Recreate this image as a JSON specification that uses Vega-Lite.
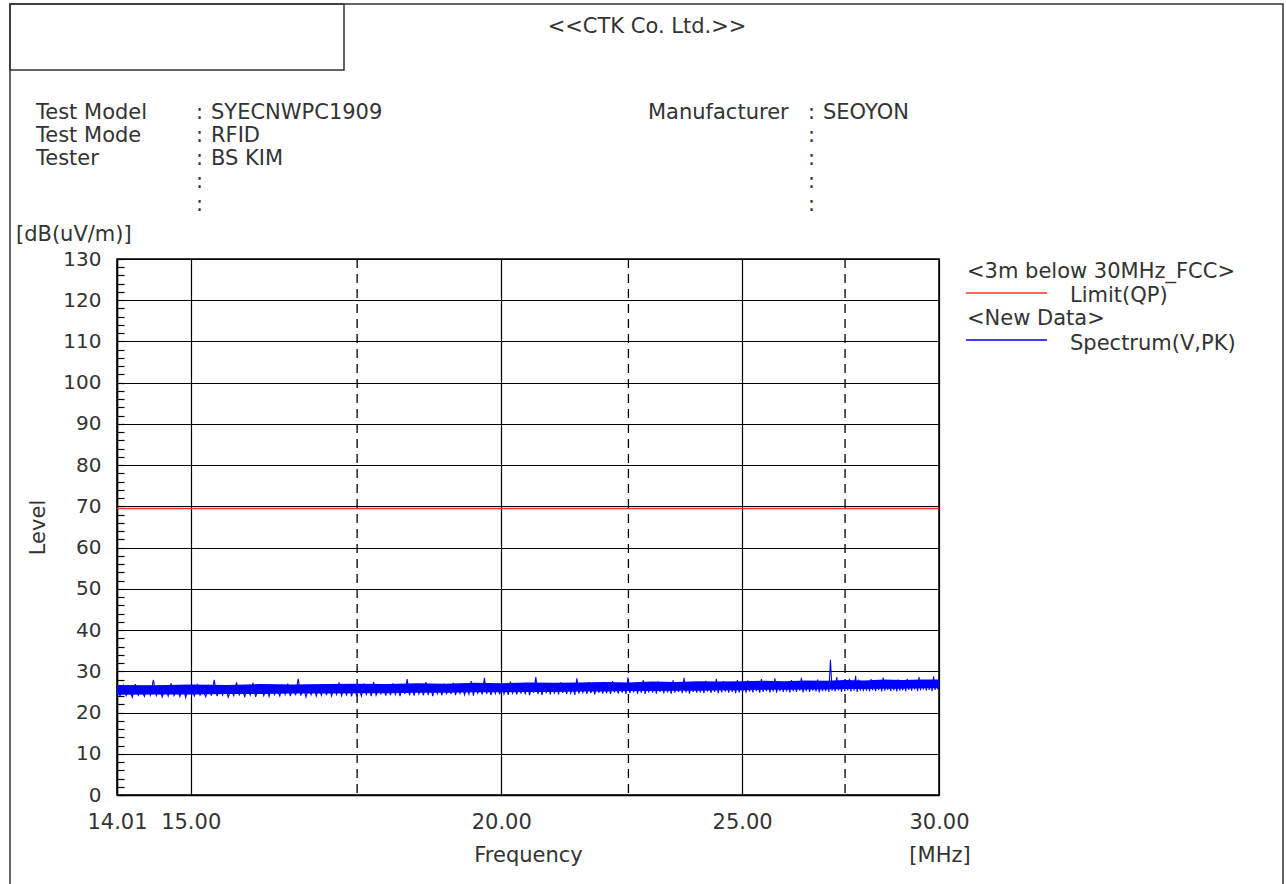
{
  "$schema": "https://vega.github.io/schema/vega-lite/v6.json",
  "width": 822,
  "height": 536,
  "autosize": {"type": "none"},
  "padding": {"left": 117, "top": 259, "right": 347, "bottom": 89},
  "background": "white",
  "config": {
    "view": {"stroke": "#000", "strokeWidth": 1.5},
    "axis": {"labelFont": "DejaVu Sans", "titleFont": "DejaVu Sans", "labelColor": "#333", "titleColor": "#333", "labelFontSize": 21, "titleFontSize": 21, "titleFontWeight": "normal"},
    "text": {"font": "DejaVu Sans", "fontSize": 21, "color": "#333"}
  },
  "layer": [
    {
      "data": {"values": [{"f": 17.5}, {"f": 22.5}, {"f": 27.5}]},
      "mark": {"type": "rule", "color": "#000", "strokeWidth": 1.3, "strokeDash": [9, 6]},
      "encoding": {"x": {"field": "f", "type": "quantitative"}}
    },
    {
      "data": {"values": [{"f": 14.01, "v": 69.5}, {"f": 30, "v": 69.5}]},
      "mark": {"type": "line", "color": "#ff3030", "strokeWidth": 1.6},
      "encoding": {
        "x": {"field": "f", "type": "quantitative"},
        "y": {"field": "v", "type": "quantitative"}
      }
    },
    {
      "data": {"values": [
        {"f":14.01,"lo":24.3,"hi":26.7},{"f":14.5,"lo":24.4,"hi":26.6},{"f":15,"lo":24.4,"hi":26.8},{"f":15.5,"lo":24.5,"hi":26.7},{"f":16,"lo":24.5,"hi":26.9},{"f":16.5,"lo":24.6,"hi":26.8},{"f":17,"lo":24.6,"hi":26.9},{"f":17.5,"lo":24.7,"hi":27.0},{"f":18,"lo":24.7,"hi":26.9},{"f":18.5,"lo":24.8,"hi":27.1},{"f":19,"lo":24.8,"hi":27.0},{"f":19.5,"lo":24.9,"hi":27.2},{"f":20,"lo":24.9,"hi":27.1},{"f":20.5,"lo":25.0,"hi":27.3},{"f":21,"lo":25.0,"hi":27.2},{"f":21.5,"lo":25.1,"hi":27.3},{"f":22,"lo":25.1,"hi":27.4},{"f":22.5,"lo":25.2,"hi":27.3},{"f":23,"lo":25.2,"hi":27.5},{"f":23.5,"lo":25.3,"hi":27.4},{"f":24,"lo":25.3,"hi":27.6},{"f":24.5,"lo":25.4,"hi":27.5},{"f":25,"lo":25.4,"hi":27.6},{"f":25.5,"lo":25.5,"hi":27.7},{"f":26,"lo":25.5,"hi":27.6},{"f":26.5,"lo":25.6,"hi":27.8},{"f":27,"lo":25.6,"hi":27.7},{"f":27.5,"lo":25.7,"hi":27.9},{"f":28,"lo":25.7,"hi":27.8},{"f":28.5,"lo":25.8,"hi":28.0},{"f":29,"lo":25.8,"hi":27.9},{"f":29.5,"lo":25.9,"hi":28.0},{"f":30,"lo":25.9,"hi":28.0}
      ]},
      "mark": {"type": "area", "color": "#0000ff", "opacity": 1},
      "encoding": {
        "x": {"field": "f", "type": "quantitative"},
        "y": {"field": "lo", "type": "quantitative"},
        "y2": {"field": "hi"}
      }
    },
    {
      "data": {"values": [
        {"f":14.01,"v":26.1},{"f":14.05,"v":24.0},{"f":14.09,"v":26.6},{"f":14.13,"v":24.1},{"f":14.17,"v":25.7},{"f":14.21,"v":23.7},{"f":14.25,"v":26.9},{"f":14.29,"v":24.2},{"f":14.33,"v":25.5},{"f":14.37,"v":23.9},{"f":14.41,"v":26.3},{"f":14.45,"v":24.2},{"f":14.49,"v":27.9},{"f":14.53,"v":24.1},{"f":14.57,"v":25.9},{"f":14.61,"v":23.8},{"f":14.65,"v":26.2},{"f":14.69,"v":24.0},{"f":14.73,"v":27.1},{"f":14.77,"v":24.1},{"f":14.81,"v":25.6},{"f":14.85,"v":23.9},{"f":14.89,"v":26.5},{"f":14.93,"v":23.6},{"f":14.97,"v":26.0},
        {"f":15.01,"v":25.8},{"f":15.05,"v":24.0},{"f":15.09,"v":26.7},{"f":15.13,"v":24.2},{"f":15.17,"v":25.5},{"f":15.21,"v":23.8},{"f":15.25,"v":26.4},{"f":15.29,"v":24.1},{"f":15.33,"v":27.9},{"f":15.37,"v":24.0},{"f":15.41,"v":26.0},{"f":15.45,"v":24.2},{"f":15.49,"v":26.6},{"f":15.53,"v":23.7},{"f":15.57,"v":25.7},{"f":15.61,"v":24.1},{"f":15.65,"v":27.3},{"f":15.69,"v":24.3},{"f":15.73,"v":25.6},{"f":15.77,"v":23.9},{"f":15.81,"v":26.3},{"f":15.85,"v":24.2},{"f":15.89,"v":27.2},{"f":15.93,"v":23.8},{"f":15.97,"v":25.9},
        {"f":16.01,"v":26.4},{"f":16.05,"v":24.1},{"f":16.09,"v":25.9},{"f":16.13,"v":23.9},{"f":16.17,"v":26.8},{"f":16.21,"v":24.3},{"f":16.25,"v":25.6},{"f":16.29,"v":24.0},{"f":16.33,"v":26.5},{"f":16.37,"v":24.4},{"f":16.41,"v":27.0},{"f":16.45,"v":24.0},{"f":16.49,"v":26.1},{"f":16.53,"v":24.2},{"f":16.57,"v":28.2},{"f":16.61,"v":24.1},{"f":16.65,"v":26.3},{"f":16.69,"v":23.8},{"f":16.73,"v":25.8},{"f":16.77,"v":24.3},{"f":16.81,"v":26.7},{"f":16.85,"v":24.0},{"f":16.89,"v":26.0},{"f":16.93,"v":24.2},{"f":16.97,"v":26.9},
        {"f":17.01,"v":24.2},{"f":17.05,"v":26.6},{"f":17.09,"v":24.0},{"f":17.13,"v":26.1},{"f":17.17,"v":24.4},{"f":17.21,"v":27.3},{"f":17.25,"v":24.1},{"f":17.29,"v":25.9},{"f":17.33,"v":24.3},{"f":17.37,"v":26.8},{"f":17.41,"v":23.9},{"f":17.45,"v":26.2},{"f":17.49,"v":24.2},{"f":17.53,"v":25.8},{"f":17.57,"v":24.0},{"f":17.61,"v":27.0},{"f":17.65,"v":24.4},{"f":17.69,"v":26.4},{"f":17.73,"v":24.0},{"f":17.77,"v":27.4},{"f":17.81,"v":24.2},{"f":17.85,"v":25.7},{"f":17.89,"v":24.5},{"f":17.93,"v":26.3},{"f":17.97,"v":24.1},
        {"f":18.01,"v":26.6},{"f":18.05,"v":24.2},{"f":18.09,"v":27.1},{"f":18.13,"v":24.4},{"f":18.17,"v":26.0},{"f":18.21,"v":24.0},{"f":18.25,"v":26.7},{"f":18.29,"v":24.5},{"f":18.33,"v":28.1},{"f":18.37,"v":24.2},{"f":18.41,"v":26.2},{"f":18.45,"v":24.1},{"f":18.49,"v":26.9},{"f":18.53,"v":24.5},{"f":18.57,"v":25.9},{"f":18.61,"v":24.2},{"f":18.65,"v":27.4},{"f":18.69,"v":24.3},{"f":18.73,"v":26.4},{"f":18.77,"v":24.0},{"f":18.81,"v":26.8},{"f":18.85,"v":24.6},{"f":18.89,"v":26.1},{"f":18.93,"v":24.2},{"f":18.97,"v":27.0},
        {"f":19.01,"v":24.4},{"f":19.05,"v":26.5},{"f":19.09,"v":24.5},{"f":19.13,"v":27.2},{"f":19.17,"v":24.2},{"f":19.21,"v":26.3},{"f":19.25,"v":24.6},{"f":19.29,"v":26.9},{"f":19.33,"v":24.3},{"f":19.37,"v":26.0},{"f":19.41,"v":24.5},{"f":19.45,"v":27.6},{"f":19.49,"v":24.1},{"f":19.53,"v":26.7},{"f":19.57,"v":24.7},{"f":19.61,"v":26.2},{"f":19.65,"v":24.4},{"f":19.69,"v":28.4},{"f":19.73,"v":24.5},{"f":19.77,"v":26.6},{"f":19.81,"v":24.2},{"f":19.85,"v":26.1},{"f":19.89,"v":24.6},{"f":19.93,"v":27.0},{"f":19.97,"v":24.4},
        {"f":20.01,"v":26.8},{"f":20.05,"v":24.5},{"f":20.09,"v":26.3},{"f":20.13,"v":24.3},{"f":20.17,"v":27.5},{"f":20.21,"v":24.7},{"f":20.25,"v":26.1},{"f":20.29,"v":24.4},{"f":20.33,"v":26.9},{"f":20.37,"v":24.6},{"f":20.41,"v":26.5},{"f":20.45,"v":24.4},{"f":20.49,"v":27.2},{"f":20.53,"v":24.2},{"f":20.57,"v":26.4},{"f":20.61,"v":24.8},{"f":20.65,"v":28.6},{"f":20.69,"v":24.5},{"f":20.73,"v":26.2},{"f":20.77,"v":24.3},{"f":20.81,"v":27.0},{"f":20.85,"v":24.7},{"f":20.89,"v":26.6},{"f":20.93,"v":24.4},{"f":20.97,"v":26.9},
        {"f":21.01,"v":24.6},{"f":21.05,"v":26.7},{"f":21.09,"v":24.4},{"f":21.13,"v":27.3},{"f":21.17,"v":24.8},{"f":21.21,"v":26.4},{"f":21.25,"v":24.5},{"f":21.29,"v":27.0},{"f":21.33,"v":24.7},{"f":21.37,"v":26.2},{"f":21.41,"v":24.3},{"f":21.45,"v":28.3},{"f":21.49,"v":24.6},{"f":21.53,"v":26.8},{"f":21.57,"v":24.9},{"f":21.61,"v":26.5},{"f":21.65,"v":24.5},{"f":21.69,"v":27.4},{"f":21.73,"v":24.7},{"f":21.77,"v":26.3},{"f":21.81,"v":24.4},{"f":21.85,"v":27.1},{"f":21.89,"v":24.8},{"f":21.93,"v":26.6},{"f":21.97,"v":24.6},
        {"f":22.01,"v":27.0},{"f":22.05,"v":24.7},{"f":22.09,"v":26.6},{"f":22.13,"v":24.5},{"f":22.17,"v":27.6},{"f":22.21,"v":24.9},{"f":22.25,"v":26.4},{"f":22.29,"v":24.6},{"f":22.33,"v":27.2},{"f":22.37,"v":24.8},{"f":22.41,"v":26.8},{"f":22.45,"v":24.5},{"f":22.49,"v":28.5},{"f":22.53,"v":24.7},{"f":22.57,"v":26.5},{"f":22.61,"v":24.9},{"f":22.65,"v":27.3},{"f":22.69,"v":24.6},{"f":22.73,"v":26.7},{"f":22.77,"v":24.8},{"f":22.81,"v":27.9},{"f":22.85,"v":24.5},{"f":22.89,"v":26.6},{"f":22.93,"v":24.9},{"f":22.97,"v":27.1},
        {"f":23.01,"v":24.8},{"f":23.05,"v":26.9},{"f":23.09,"v":24.6},{"f":23.13,"v":27.5},{"f":23.17,"v":25.0},{"f":23.21,"v":26.6},{"f":23.25,"v":24.7},{"f":23.29,"v":27.2},{"f":23.33,"v":24.9},{"f":23.37,"v":26.5},{"f":23.41,"v":24.6},{"f":23.45,"v":27.8},{"f":23.49,"v":24.8},{"f":23.53,"v":26.8},{"f":23.57,"v":25.0},{"f":23.61,"v":27.1},{"f":23.65,"v":24.7},{"f":23.69,"v":28.4},{"f":23.73,"v":24.9},{"f":23.77,"v":26.7},{"f":23.81,"v":24.6},{"f":23.85,"v":27.3},{"f":23.89,"v":25.0},{"f":23.93,"v":26.9},{"f":23.97,"v":24.8},
        {"f":24.01,"v":27.1},{"f":24.05,"v":24.9},{"f":24.09,"v":26.8},{"f":24.13,"v":24.7},{"f":24.17,"v":27.7},{"f":24.21,"v":25.1},{"f":24.25,"v":26.6},{"f":24.29,"v":24.8},{"f":24.33,"v":27.4},{"f":24.37,"v":25.0},{"f":24.41,"v":28.2},{"f":24.45,"v":24.7},{"f":24.49,"v":26.9},{"f":24.53,"v":24.9},{"f":24.57,"v":27.6},{"f":24.61,"v":25.1},{"f":24.65,"v":26.7},{"f":24.69,"v":24.8},{"f":24.73,"v":27.3},{"f":24.77,"v":25.0},{"f":24.81,"v":26.8},{"f":24.85,"v":24.7},{"f":24.89,"v":27.9},{"f":24.93,"v":24.9},{"f":24.97,"v":27.0},
        {"f":25.01,"v":25.0},{"f":25.05,"v":27.2},{"f":25.09,"v":24.8},{"f":25.13,"v":27.8},{"f":25.17,"v":25.1},{"f":25.21,"v":26.9},{"f":25.25,"v":24.9},{"f":25.29,"v":27.5},{"f":25.33,"v":25.2},{"f":25.37,"v":27.0},{"f":25.41,"v":24.8},{"f":25.45,"v":28.1},{"f":25.49,"v":25.0},{"f":25.53,"v":26.8},{"f":25.57,"v":25.2},{"f":25.61,"v":27.4},{"f":25.65,"v":24.9},{"f":25.69,"v":27.1},{"f":25.73,"v":25.1},{"f":25.77,"v":28.3},{"f":25.81,"v":24.8},{"f":25.85,"v":26.9},{"f":25.89,"v":25.2},{"f":25.93,"v":27.3},{"f":25.97,"v":25.0},
        {"f":26.01,"v":27.3},{"f":26.05,"v":25.1},{"f":26.09,"v":27.0},{"f":26.13,"v":24.9},{"f":26.17,"v":27.9},{"f":26.21,"v":25.2},{"f":26.25,"v":26.8},{"f":26.29,"v":25.0},{"f":26.33,"v":27.5},{"f":26.37,"v":25.3},{"f":26.41,"v":28.4},{"f":26.45,"v":24.9},{"f":26.49,"v":27.1},{"f":26.53,"v":25.2},{"f":26.57,"v":27.6},{"f":26.61,"v":25.0},{"f":26.65,"v":26.9},{"f":26.69,"v":25.3},{"f":26.73,"v":27.4},{"f":26.77,"v":25.1},{"f":26.81,"v":28.0},{"f":26.85,"v":24.9},{"f":26.89,"v":27.2},{"f":26.93,"v":25.2},{"f":26.97,"v":27.7},
        {"f":27.01,"v":25.2},{"f":27.05,"v":27.5},{"f":27.09,"v":25.0},{"f":27.13,"v":32.8},{"f":27.17,"v":25.3},{"f":27.21,"v":27.1},{"f":27.25,"v":25.1},{"f":27.29,"v":28.6},{"f":27.33,"v":25.4},{"f":27.37,"v":27.3},{"f":27.41,"v":25.0},{"f":27.45,"v":27.8},{"f":27.49,"v":25.2},{"f":27.53,"v":27.0},{"f":27.57,"v":25.4},{"f":27.61,"v":28.2},{"f":27.65,"v":25.1},{"f":27.69,"v":27.4},{"f":27.73,"v":25.3},{"f":27.77,"v":28.9},{"f":27.81,"v":25.0},{"f":27.85,"v":28.0},{"f":27.89,"v":25.3},{"f":27.93,"v":27.5},{"f":27.97,"v":25.2},
        {"f":28.01,"v":27.6},{"f":28.05,"v":25.3},{"f":28.09,"v":27.2},{"f":28.13,"v":25.1},{"f":28.17,"v":28.1},{"f":28.21,"v":25.4},{"f":28.25,"v":27.0},{"f":28.29,"v":25.2},{"f":28.33,"v":27.7},{"f":28.37,"v":25.5},{"f":28.41,"v":27.3},{"f":28.45,"v":25.1},{"f":28.49,"v":28.5},{"f":28.53,"v":25.3},{"f":28.57,"v":27.4},{"f":28.61,"v":25.5},{"f":28.65,"v":27.1},{"f":28.69,"v":25.2},{"f":28.73,"v":27.8},{"f":28.77,"v":25.4},{"f":28.81,"v":27.3},{"f":28.85,"v":25.1},{"f":28.89,"v":28.0},{"f":28.93,"v":25.3},{"f":28.97,"v":27.5},
        {"f":29.01,"v":25.4},{"f":29.05,"v":27.7},{"f":29.09,"v":25.2},{"f":29.13,"v":28.2},{"f":29.17,"v":25.5},{"f":29.21,"v":27.3},{"f":29.25,"v":25.3},{"f":29.29,"v":27.9},{"f":29.33,"v":25.6},{"f":29.37,"v":27.4},{"f":29.41,"v":25.2},{"f":29.45,"v":28.6},{"f":29.49,"v":25.4},{"f":29.53,"v":27.2},{"f":29.57,"v":25.6},{"f":29.61,"v":27.6},{"f":29.65,"v":25.3},{"f":29.69,"v":27.9},{"f":29.73,"v":25.5},{"f":29.77,"v":27.3},{"f":29.81,"v":25.2},{"f":29.85,"v":28.8},{"f":29.89,"v":25.5},{"f":29.93,"v":27.5},{"f":29.97,"v":25.6},
        {"f":30.0,"v":26.9}
      ]},
      "mark": {"type": "line", "color": "#0000ff", "strokeWidth": 1.1},
      "encoding": {
        "x": {
          "field": "f", "type": "quantitative",
          "scale": {"type": "log", "domain": [14.01, 30], "nice": false, "zero": false},
          "axis": {
            "values": [14.01, 15, 20, 25, 30], "format": ".2f", "labelPadding": 16, "labelFlush": false, "labelOverlap": false,
            "ticks": false, "grid": true, "gridColor": "#000", "gridWidth": 1.2, "gridOpacity": 1,
            "domainColor": "#000", "domainWidth": 1.5,
            "title": "Frequency", "titleX": 411, "titleY": 60, "titleAlign": "center", "titleBaseline": "middle"
          }
        },
        "y": {
          "field": "v", "type": "quantitative",
          "scale": {"domain": [0, 130], "nice": false, "zero": true},
          "axis": {
            "values": [0,2,4,6,8,10,12,14,16,18,20,22,24,26,28,30,32,34,36,38,40,42,44,46,48,50,52,54,56,58,60,62,64,66,68,70,72,74,76,78,80,82,84,86,88,90,92,94,96,98,100,102,104,106,108,110,112,114,116,118,120,122,124,126,128,130],
            "tickCount": 200, "format": "d",
            "labelExpr": "datum.value % 10 === 0 ? datum.label : ''", "labelOverlap": false, "labelPadding": 23, "labelFontSize": 20,
            "tickSize": -7, "tickColor": "#000", "tickWidth": 1.2,
            "grid": true, "gridColor": "#000", "gridWidth": 1.2,
            "gridOpacity": {"condition": {"test": "datum.value % 10 === 0", "value": 1}, "value": 0},
            "domainColor": "#000", "domainWidth": 1.5,
            "title": "Level", "titleX": -79, "titleY": 268, "titleAlign": "center", "titleBaseline": "middle", "titleAngle": -90
          }
        }
      }
    },
    {
      "data": {"values": [{}]},
      "mark": {"type": "rect", "fillOpacity": 0, "stroke": "#333", "strokeWidth": 1.5},
      "encoding": {"x": {"value": -107}, "x2": {"value": 1166}, "y": {"value": -255}, "y2": {"value": 640}}
    },
    {
      "data": {"values": [{}]},
      "mark": {"type": "rect", "fillOpacity": 0, "stroke": "#333", "strokeWidth": 1.5},
      "encoding": {"x": {"value": -107}, "x2": {"value": 227}, "y": {"value": -255}, "y2": {"value": -189}}
    },
    {
      "data": {"values": [{}]},
      "mark": {"type": "text", "text": "<<CTK Co. Ltd.>>", "align": "center", "baseline": "alphabetic"},
      "encoding": {"x": {"value": 530}, "y": {"value": -226}}
    },
    {
      "data": {"values": [{}]},
      "mark": {"type": "text", "text": ["Test Model", "Test Mode", "Tester"], "align": "left", "baseline": "alphabetic", "lineHeight": 23},
      "encoding": {"x": {"value": -81}, "y": {"value": -140}}
    },
    {
      "data": {"values": [{}]},
      "mark": {"type": "text", "text": [":", ":", ":", ":", ":"], "align": "left", "baseline": "alphabetic", "lineHeight": 23},
      "encoding": {"x": {"value": 79}, "y": {"value": -140}}
    },
    {
      "data": {"values": [{}]},
      "mark": {"type": "text", "text": ["SYECNWPC1909", "RFID", "BS KIM"], "align": "left", "baseline": "alphabetic", "lineHeight": 23},
      "encoding": {"x": {"value": 94}, "y": {"value": -140}}
    },
    {
      "data": {"values": [{}]},
      "mark": {"type": "text", "text": "Manufacturer", "align": "left", "baseline": "alphabetic"},
      "encoding": {"x": {"value": 531}, "y": {"value": -140}}
    },
    {
      "data": {"values": [{}]},
      "mark": {"type": "text", "text": [":", ":", ":", ":", ":"], "align": "left", "baseline": "alphabetic", "lineHeight": 23},
      "encoding": {"x": {"value": 691}, "y": {"value": -140}}
    },
    {
      "data": {"values": [{}]},
      "mark": {"type": "text", "text": "SEOYON", "align": "left", "baseline": "alphabetic"},
      "encoding": {"x": {"value": 706}, "y": {"value": -140}}
    },
    {
      "data": {"values": [{}]},
      "mark": {"type": "text", "text": "[dB(uV/m)]", "align": "left", "baseline": "alphabetic"},
      "encoding": {"x": {"value": -101}, "y": {"value": -18}}
    },
    {
      "data": {"values": [{}]},
      "mark": {"type": "text", "text": "[MHz]", "align": "center", "baseline": "alphabetic"},
      "encoding": {"x": {"value": 823}, "y": {"value": 603}}
    },
    {
      "data": {"values": [{}]},
      "mark": {"type": "text", "text": "<3m below 30MHz_FCC>", "align": "left", "baseline": "alphabetic"},
      "encoding": {"x": {"value": 850}, "y": {"value": 19}}
    },
    {
      "data": {"values": [{}]},
      "mark": {"type": "text", "text": "Limit(QP)", "align": "left", "baseline": "alphabetic"},
      "encoding": {"x": {"value": 953}, "y": {"value": 43}}
    },
    {
      "data": {"values": [{}]},
      "mark": {"type": "text", "text": "<New Data>", "align": "left", "baseline": "alphabetic"},
      "encoding": {"x": {"value": 850}, "y": {"value": 66}}
    },
    {
      "data": {"values": [{}]},
      "mark": {"type": "text", "text": "Spectrum(V,PK)", "align": "left", "baseline": "alphabetic"},
      "encoding": {"x": {"value": 953}, "y": {"value": 91}}
    },
    {
      "data": {"values": [{}]},
      "mark": {"type": "rule", "color": "#ff3030", "strokeWidth": 1.5},
      "encoding": {"x": {"value": 849}, "x2": {"value": 930}, "y": {"value": 34}, "y2": {"value": 34}}
    },
    {
      "data": {"values": [{}]},
      "mark": {"type": "rule", "color": "#0000ff", "strokeWidth": 1.5},
      "encoding": {"x": {"value": 849}, "x2": {"value": 930}, "y": {"value": 81}, "y2": {"value": 81}}
    }
  ]
}
